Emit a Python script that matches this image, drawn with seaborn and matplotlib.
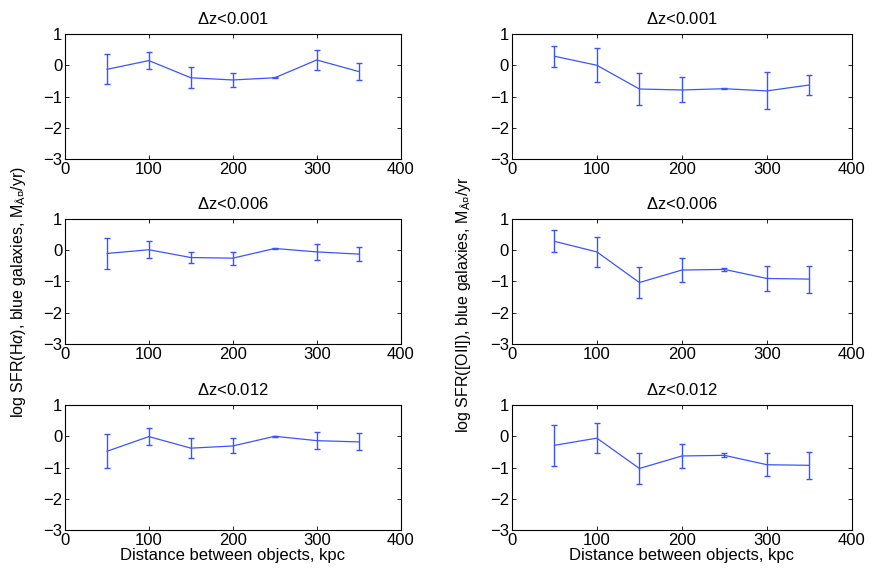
import numpy as np
import pandas as pd
import matplotlib
matplotlib.use("Agg")
import matplotlib.pyplot as plt
import seaborn as sns

# distances (kpc)
distance = [50, 100, 150, 200, 250, 300, 350]

titles = ["$\\Delta$z<0.001", "$\\Delta$z<0.006", "$\\Delta$z<0.012"]

# log SFR(Halpha), blue galaxies, per dz cut
ha_mean = [
    [-0.13, 0.15, -0.40, -0.47, -0.40, 0.17, -0.20],
    [-0.11, 0.01, -0.24, -0.26, 0.05, -0.06, -0.13],
    [-0.48, -0.01, -0.38, -0.31, 0.00, -0.14, -0.18],
]
ha_err = [
    [0.48, 0.28, 0.33, 0.22, 0.01, 0.33, 0.26],
    [0.49, 0.27, 0.18, 0.21, 0.02, 0.25, 0.22],
    [0.54, 0.28, 0.33, 0.24, 0.01, 0.27, 0.27],
]

# log SFR([OII]), blue galaxies
oii_mean = [
    [0.29, 0.00, -0.76, -0.79, -0.75, -0.82, -0.63],
    [0.28, -0.06, -1.04, -0.64, -0.62, -0.91, -0.93],
    [-0.29, -0.06, -1.03, -0.63, -0.61, -0.91, -0.93],
]
oii_err = [
    [0.34, 0.54, 0.50, 0.40, 0.02, 0.59, 0.33],
    [0.35, 0.47, 0.50, 0.37, 0.05, 0.40, 0.43],
    [0.66, 0.47, 0.50, 0.37, 0.06, 0.36, 0.43],
]

ylabel_left = "log SFR(H$\\alpha$), blue galaxies, M$_{\\mathrm{Â¤}}$/yr)"
ylabel_right = "log SFR([OII]), blue galaxies, M$_{\\mathrm{Â¤}}$/yr"
xlabel = "Distance between objects, kpc"

sns.set_style("ticks")
plt.rcParams["font.family"] = ["Liberation Sans", "DejaVu Sans"]
plt.rcParams["mathtext.fontset"] = "custom"
plt.rcParams["mathtext.rm"] = "Liberation Sans"
plt.rcParams["mathtext.it"] = "Liberation Sans:italic"
plt.rcParams["mathtext.bf"] = "Liberation Sans:bold"
for k in ["text.color", "axes.labelcolor", "xtick.color", "ytick.color", "axes.edgecolor"]:
    plt.rcParams[k] = "black"

LINE = "#3a55ff"

fig = plt.figure(figsize=(8.72, 5.72), dpi=100)
col_x = [(0.0745, 0.385), (0.587, 0.39)]
row_y = [0.722, 0.399, 0.0734]
row_h = 0.2185

for c, (means, errs) in enumerate([(ha_mean, ha_err), (oii_mean, oii_err)]):
    for r in range(3):
        ax = fig.add_axes([col_x[c][0], row_y[r], col_x[c][1], row_h])
        df = pd.DataFrame({"d": distance, "sfr": means[r], "err": errs[r]})
        sns.lineplot(data=df, x="d", y="sfr", ax=ax, color=LINE, lw=0.9)
        ax.errorbar(df["d"], df["sfr"], yerr=df["err"], fmt="none",
                    ecolor=LINE, elinewidth=1.0, capsize=2.5, capthick=1.0)
        ax.set_xlim(0, 400)
        ax.set_ylim(-3, 1)
        ax.set_xticks([0, 100, 200, 300, 400])
        ax.set_yticks([-3, -2, -1, 0, 1])
        ax.tick_params(direction="in", top=True, right=True, labelsize=12,
                       length=3, width=0.6, pad=2)
        for s in ax.spines.values():
            s.set_linewidth(0.8)
        ax.set_title(titles[r], fontsize=12, pad=7)
        ax.set_ylabel("")
        ax.set_xlabel(xlabel if r == 2 else "", fontsize=12, labelpad=0)

fig.text(0.021, 0.489, ylabel_left, rotation=90, ha="center", va="center", fontsize=11.5)
fig.text(0.531, 0.467, ylabel_right, rotation=90, ha="center", va="center", fontsize=11.5)

fig.savefig("out.png", dpi=100)
